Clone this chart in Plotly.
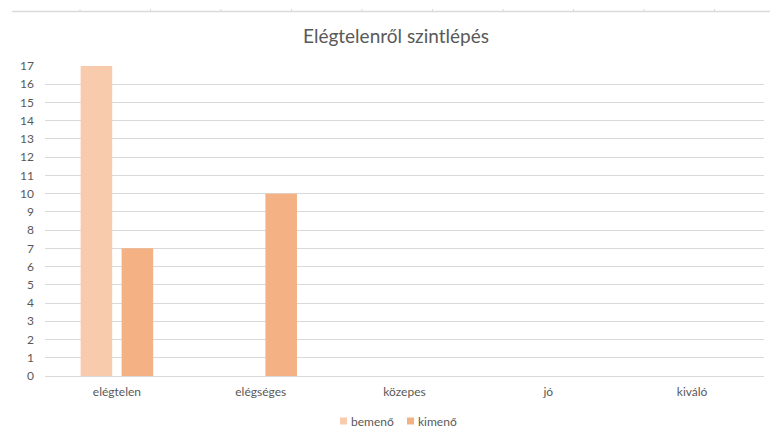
import plotly.graph_objects as go

categories = ["elégtelen", "elégséges", "közepes", "jó", "kiváló"]
bemeno = [17, 0, 0, 0, 0]
kimeno = [7, 10, 0, 0, 0]
y_ticks = list(range(0, 18))

series = [("bemenő", bemeno, "#F8CBAD"), ("kimenő", kimeno, "#F4B183")]

FONT = "Lato"
TEXT = "#595959"
W, H = 770, 439
L, R, T, B = 45, 6, 66, 63
PW, PH = W - L - R, H - T - B


def px_x(px):
    return (px - L) / PW


def px_y(py):
    return (H - B - py) / PH


fig = go.Figure()
for name, vals, color in series:
    fig.add_trace(go.Bar(name=name, x=categories, y=vals, showlegend=False,
                         marker=dict(color=color, line=dict(width=0))))

# worksheet edge with column separators above the chart
shapes = [dict(type="line", xref="paper", yref="paper",
               x0=px_x(12), x1=px_x(770), y0=px_y(11.5), y1=px_y(11.5),
               line=dict(color="#DADADA", width=1.5))]
for i in range(10):
    cx = 80 + 70.5 * i
    shapes.append(dict(type="line", xref="paper", yref="paper",
                       x0=px_x(cx), x1=px_x(cx), y0=px_y(11.5), y1=px_y(9),
                       line=dict(color="#DADADA", width=1)))

# legend below the axis: square swatch + series name
annotations = []
legend_x = [340, 407]
for (name, _, color), lx in zip(series, legend_x):
    shapes.append(dict(type="rect", xref="paper", yref="paper",
                       x0=px_x(lx), x1=px_x(lx + 7),
                       y0=px_y(424.5), y1=px_y(417.5),
                       fillcolor=color, line=dict(width=0)))
    annotations.append(dict(text=name, xref="paper", yref="paper",
                            x=px_x(lx + 9), y=px_y(421), xanchor="left",
                            yanchor="middle", showarrow=False,
                            font=dict(family=FONT, size=12, color=TEXT)))

fig.update_layout(
    width=W, height=H,
    margin=dict(l=L, r=R, t=T, b=B),
    paper_bgcolor="white", plot_bgcolor="white",
    barmode="group", bargap=0.43, bargroupgap=0.23,
    title=dict(text="Elégtelenről szintlépés", x=396 / W, xanchor="center",
               y=1 - 36 / H, yanchor="middle",
               font=dict(family=FONT, size=19, color=TEXT)),
    font=dict(family=FONT, size=12, color=TEXT),
    xaxis=dict(showgrid=False, showline=True, linecolor="#D9D9D9",
               linewidth=1, ticks="", tickfont=dict(size=12, color=TEXT),
               ticklabelstandoff=5),
    yaxis=dict(range=[0, 17], tickvals=y_ticks, showgrid=True,
               gridcolor="#D9D9D9", gridwidth=1, zeroline=False,
               showline=False, ticks="", tickfont=dict(size=12, color=TEXT),
               ticklabelstandoff=10),
    shapes=shapes,
    annotations=annotations,
    showlegend=False,
)

fig.write_html("out.html")
